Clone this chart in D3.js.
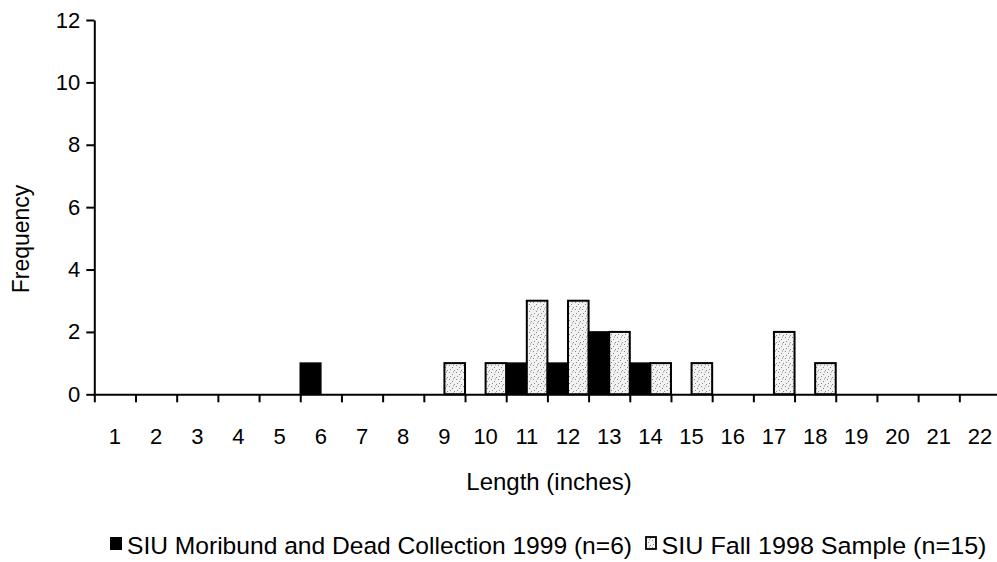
<!DOCTYPE html>
<html>
<head>
<meta charset="utf-8">
<script src="https://cdn.jsdelivr.net/npm/d3@7"></script>
<style>
  html, body { margin: 0; padding: 0; background: #fff; }
  svg { display: block; font-family: "Liberation Sans", Arial, sans-serif; }
</style>
</head>
<body>
<svg id="chart" width="997" height="562"></svg>
<script>
// ---- data ----
const lengths = ["1","2","3","4","5","6","7","8","9","10","11","12","13","14","15","16","17","18","19","20","21","22"];
const moribund = [0,0,0,0,0,1,0,0,0,0,1,1,2,1,0,0,0,0,0,0,0,0];
const fall1998 = [0,0,0,0,0,0,0,0,1,1,3,3,2,1,1,0,2,1,0,0,0,0];
const seriesNames = ["SIU Moribund and Dead Collection 1999 (n=6)", "SIU Fall 1998 Sample (n=15)"];
const yTicks = [0,2,4,6,8,10,12];

const svg = d3.select("#chart");

// stipple pattern for the light series
const defs = svg.append("defs");
const pat = defs.append("pattern").attr("id","stip").attr("patternUnits","userSpaceOnUse")
  .attr("width",7).attr("height",7);
pat.append("rect").attr("width",7).attr("height",7).attr("fill","#f2f2f2");
[[1,1],[4,3],[2,5],[6,6],[5,0.5]].forEach(([cx,cy]) =>
  pat.append("rect").attr("x",cx).attr("y",cy).attr("width",1).attr("height",1).attr("fill","#8a8a8a"));

const x0 = 94.3, x1 = 1000.5, yTop = 20, yBot = 394.3;
const x = d3.scaleBand().domain(lengths).range([x0, x1]).paddingInner(0).paddingOuter(0);
const xLin = d3.scaleLinear().domain([0, lengths.length]).range([x0, x1]);
const sub = d3.scaleBand().domain(["m","f"]).range([0, x.bandwidth()]).padding(0);
const y = d3.scaleLinear().domain([0, 12]).range([yBot, yTop]);

// bars
const g = svg.append("g");
lengths.forEach((L, i) => {
  if (moribund[i] > 0) {
    g.append("rect").attr("x", x(L) + sub("m")).attr("y", y(moribund[i]))
      .attr("width", sub.bandwidth()).attr("height", y(0) - y(moribund[i]))
      .attr("fill", "#000").attr("stroke", "#000").attr("stroke-width", 1.5);
  }
  if (fall1998[i] > 0) {
    g.append("rect").attr("x", x(L) + sub("f")).attr("y", y(fall1998[i]))
      .attr("width", sub.bandwidth()).attr("height", y(0) - y(fall1998[i]))
      .attr("fill", "url(#stip)").attr("stroke", "#000").attr("stroke-width", 2);
  }
});

// y axis
const yAxis = svg.append("g").attr("transform", `translate(${x0},0)`)
  .call(d3.axisLeft(y).tickValues(yTicks).tickSize(8).tickPadding(6).tickSizeOuter(0));
yAxis.select(".domain").attr("stroke-width", 2);
yAxis.selectAll(".tick line").attr("stroke-width", 2);
yAxis.selectAll("text").attr("font-size", 22).attr("fill", "#000");

// x axis ticks at band boundaries
const xTickAxis = svg.append("g").attr("transform", `translate(0,${yBot})`)
  .call(d3.axisBottom(xLin).tickValues(d3.range(0, lengths.length + 1)).tickFormat("").tickSize(8).tickSizeOuter(0));
xTickAxis.select(".domain").attr("stroke-width", 2);
xTickAxis.selectAll(".tick line").attr("stroke-width", 2);

// x labels at band centers
const xLab = svg.append("g").attr("transform", `translate(0,${yBot})`)
  .call(d3.axisBottom(x).tickSize(0).tickPadding(34));
xLab.select(".domain").remove();
xLab.selectAll("text").attr("font-size", 22).attr("fill", "#000");

// axis titles
svg.append("text").attr("transform", "translate(28.5,239) rotate(-90)")
  .attr("text-anchor", "middle").attr("font-size", 23).text("Frequency");
svg.append("text").attr("x", 549).attr("y", 490)
  .attr("text-anchor", "middle").attr("font-size", 24).text("Length (inches)");

// legend
const leg = svg.append("g");
leg.append("rect").attr("x", 110).attr("y", 537).attr("width", 12).attr("height", 13).attr("fill", "#000");
leg.append("text").attr("x", 127).attr("y", 554).attr("font-size", 24.5)
  .attr("textLength", 505).attr("lengthAdjust", "spacingAndGlyphs").text(seriesNames[0]);
leg.append("rect").attr("x", 646).attr("y", 537).attr("width", 10).attr("height", 12)
  .attr("fill", "url(#stip)").attr("stroke", "#000").attr("stroke-width", 1.8);
leg.append("text").attr("x", 661.5).attr("y", 554).attr("font-size", 24.5)
  .attr("textLength", 325).attr("lengthAdjust", "spacingAndGlyphs").text(seriesNames[1]);
</script>
</body>
</html>
